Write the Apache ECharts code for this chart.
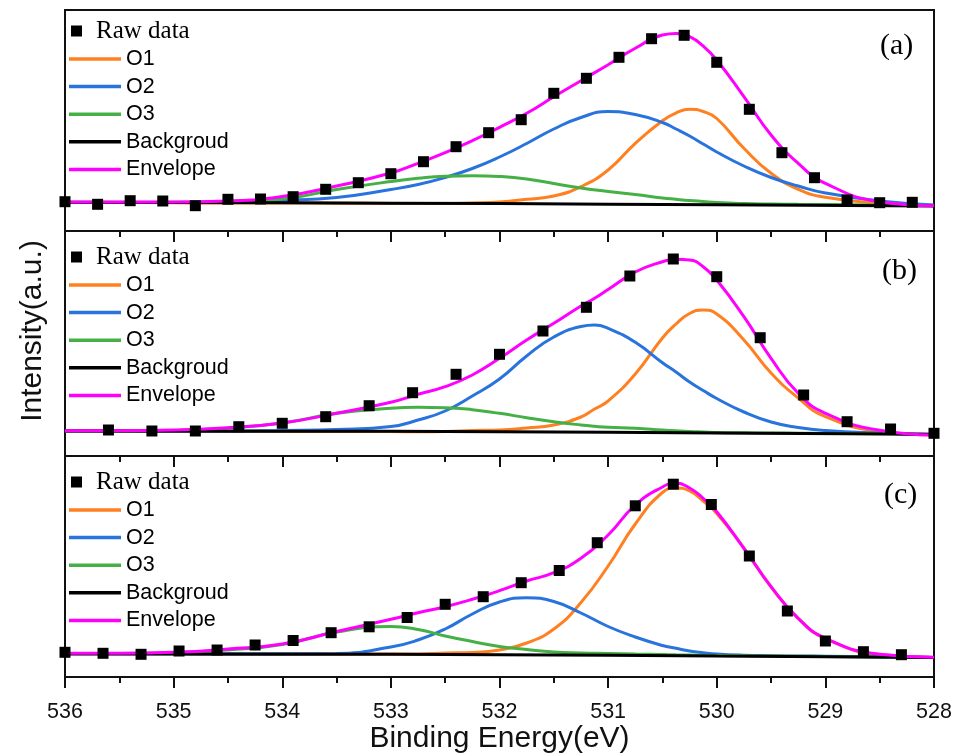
<!DOCTYPE html>
<html>
<head>
<meta charset="utf-8">
<title>O 1s XPS fits</title>
<script src="https://cdn.jsdelivr.net/npm/echarts@6/dist/echarts.min.js"></script>
<style>
  html, body { margin: 0; padding: 0; background: #fff; }
  #chart { width: 960px; height: 755px; }
</style>
</head>
<body>
<div id="chart"></div>
<script>
// binding energies (eV) where the fitted curves were read
var energy = [536, 535.5, 535, 534.5, 534, 533.5, 533, 532.75, 532.5, 532.25, 532, 531.75,
  531.5, 531.25, 531, 530.75, 530.5, 530.375, 530.25, 530.125, 530, 529.75, 529.5, 529.25, 529, 528.5, 528];
// panel (b) was also read at the O2 maximum (531.125 eV)
var energyB = [536, 535.5, 535, 534.5, 534, 533.5, 533, 532.75, 532.5, 532.25, 532, 531.75,
  531.5, 531.25, 531.125, 531, 530.75, 530.5, 530.375, 530.25, 530.125, 530, 529.75, 529.5, 529.25, 529, 528.5, 528];
var bgEnergy = [536, 534, 532, 530, 528];

// --- panel (a) ---
var envA = [29, 29, 29, 30, 34.5, 45, 58, 67.7, 78.3, 90.3, 103.7, 117.7, 134.3, 150.3, 166.3, 182.7, 196, 197.5, 194.3, 185, 171, 134.3, 96, 67.7, 47.7, 29.3, 25.3];
var o1A = [28.5, 28.5, 28.3, 28, 28, 27.8, 27.6, 27.5, 27.5, 28, 29, 31.7, 35, 44.3, 61, 87.7, 110.3, 118, 121.7, 119.5, 112.5, 82.7, 57.7, 41.7, 33.7, 27.7, 25.5];
var o2A = [28.5, 28.5, 28.5, 29, 30.5, 33.5, 41.5, 46.5, 53.5, 62.5, 74, 87.5, 102, 113.5, 119.5, 116.5, 108.5, 102, 95, 87, 79, 65, 53.5, 45, 38, 30, 26];
var o3A = [28.5, 28.5, 28.7, 29.5, 32, 41.5, 49.5, 52.7, 54.8, 55.3, 54.5, 52, 47.5, 43, 39.5, 36.5, 33, 31.7, 30.5, 29.5, 28.5, 27.5, 27, 26.7, 26.5, 26, 25.5];
var bgA = [28.7, 28.2, 27.4, 26.2, 25];
var rawEA = [536, 535.7, 535.4, 535.1, 534.8, 534.5, 534.2, 533.9, 533.6, 533.3, 533, 532.7, 532.4, 532.1,
  531.8, 531.5, 531.2, 530.9, 530.6, 530.3, 530, 529.7, 529.4, 529.1, 528.8, 528.5, 528.2];
var rawA = [29.3, 26.7, 30.3, 30, 25.3, 31.7, 32, 34.3, 41.7, 48.3, 57.3, 69.3, 84.3, 98.3,
  111.3, 137.7, 152.7, 173.7, 192.3, 195.7, 168.7, 121.7, 78.3, 53.3, 31, 28.3, 28.7];

// --- panel (b) ---
var envB = [25.3, 25.3, 26, 28.3, 33, 42.7, 53.7, 61.7, 69.3, 81, 97.7, 116, 132.7, 150, 157.7, 166.5, 184, 194.3, 196.7, 196, 189.3, 176, 139.3, 97.7, 62.7, 42.7, 25.7, 21];
var o1B = [25, 25, 24.9, 24.8, 24.6, 24.5, 24.4, 24.3, 24.4, 25.5, 26, 28, 31, 39, 47, 55, 82, 118, 132, 142.5, 146, 142, 116, 83, 58, 39.3, 24.5, 21];
var o2B = [25, 25, 25, 24.8, 25.5, 26.5, 29.5, 36, 45, 60, 77, 100, 119, 129.5, 131, 127.7, 113.7, 93.3, 84, 74, 65.5, 57.5, 44, 34, 28.5, 25.5, 23, 21.5];
var o3B = [25, 25, 25.5, 28, 33, 42.7, 47.7, 48.7, 48.3, 46.3, 42.7, 38.3, 34.3, 31, 29.7, 28.7, 27.7, 26, 25.2, 24.5, 24, 23.5, 23.2, 23, 22.8, 22.6, 22.2, 21.5];
var bgB = [25, 24.8, 24.3, 23, 21.7];
var rawEB = [535.6, 535.2, 534.8, 534.4, 534, 533.6, 533.2, 532.8, 532.4, 532, 531.6, 531.2, 530.8, 530.4,
  530, 529.6, 529.2, 528.8, 528.4, 528];
var rawB = [26, 25, 25, 29.3, 32.7, 39.3, 50.3, 63.3, 81.7, 101.7, 125, 148.7, 180, 197,
  179.3, 118.3, 61, 34.3, 27, 22.7];

// --- panel (c) ---
var envC = [23.7, 23.7, 24.7, 28, 33, 45.5, 57.7, 64.3, 70.3, 77.7, 86.3, 96, 104.3, 118.7, 142, 172, 190, 194, 189, 178.7, 165.3, 128.7, 90.3, 58.7, 38.7, 22.7, 19.7];
var o1C = [23.5, 23.5, 23.4, 23.3, 23.2, 23.1, 23, 23, 24, 24.5, 27, 34, 48, 74.5, 111, 153, 184.5, 189, 186, 176, 163.5, 129, 90, 58.5, 38.5, 22.5, 19.5];
var o2C = [23.5, 23.5, 23.4, 23.3, 23.2, 23.5, 30, 37, 48, 63, 75, 79.3, 75.5, 64, 50.5, 40, 31.5, 28.7, 26, 24.3, 23, 21.8, 21.3, 21, 20.8, 20.2, 19.5];
var o3C = [23.5, 23.5, 24.2, 27, 32.5, 45, 50.5, 47.5, 41, 35.5, 30.5, 27.5, 25, 24, 23.5, 23, 22.5, 22.2, 22, 21.7, 21.5, 21.2, 21, 20.8, 20.5, 20, 19.5];
var bgC = [23, 22.8, 22.3, 21, 19.5];
var rawEC = [536, 535.65, 535.3, 534.95, 534.6, 534.25, 533.9, 533.55, 533.2, 532.85, 532.5, 532.15,
  531.8, 531.45, 531.1, 530.75, 530.4, 530.05, 529.7, 529.35, 529, 528.65, 528.3];
var rawC = [24.7, 23.7, 22.7, 26, 27, 32, 36.5, 44.3, 50.2, 59.5, 72.7, 80.3,
  94.3, 106.5, 134.3, 171.2, 192.8, 172.5, 121, 66, 36, 25.3, 22.3];

var panelLabels = ['(a)', '(b)', '(c)'];
var lineNames = ['O1', 'O2', 'O3', 'Backgroud', 'Envelope'];

(function() {
  var sans = 'Liberation Sans, Arial, sans-serif';
  var serif = 'Liberation Serif, Times New Roman, serif';
  var colors = { O1: '#FF8020', O2: '#2873DC', O3: '#45B046', Backgroud: '#000000', Envelope: '#FF00FF' };

  var panels = [
    { e: energy, env: envA, o1: o1A, o2: o2A, o3: o3A, bg: bgA, rawE: rawEA, raw: rawA, top: 10, h: 221, rawTop: 18, lineTop: 47, labelTop: 31, labelLeft: 880 },
    { e: energyB, env: envB, o1: o1B, o2: o2B, o3: o3B, bg: bgB, rawE: rawEB, raw: rawB, top: 231, h: 225, rawTop: 244, lineTop: 273, labelTop: 256, labelLeft: 882 },
    { e: energy, env: envC, o1: o1C, o2: o2C, o3: o3C, bg: bgC, rawE: rawEC, raw: rawC, top: 456, h: 221, rawTop: 469, lineTop: 498, labelTop: 480, labelLeft: 884 }
  ];

  function pairs(xs, ys) {
    return xs.map(function(x, i) { return [x, ys[i]]; });
  }

  function curve(name, data, idx, z) {
    return {
      type: 'line', name: name, xAxisIndex: idx, yAxisIndex: idx,
      data: data, showSymbol: false, symbol: 'none', smooth: 0.5,
      color: colors[name], lineStyle: { width: 3, color: colors[name] },
      z: z, silent: true
    };
  }

  var grid = [], xAxis = [], yAxis = [], series = [], legend = [], title = [];

  panels.forEach(function(p, i) {
    var last = i === panels.length - 1;
    grid.push({ left: 65, right: 26, top: p.top, height: p.h, show: true, borderColor: '#111', borderWidth: 2 });
    xAxis.push({
      gridIndex: i, type: 'value', min: 528, max: 536, interval: 1, inverse: true,
      axisLine: { show: false },
      axisTick: { show: true, inside: false, length: 11, lineStyle: { color: '#111', width: 2 } },
      minorTick: { show: true, splitNumber: 2, length: 6, lineStyle: { color: '#111', width: 2 } },
      splitLine: { show: false },
      minorSplitLine: { show: false },
      axisLabel: { show: last, color: '#111', fontFamily: sans, fontSize: 21.5, margin: 24 },
      name: last ? 'Binding Energy(eV)' : '',
      nameLocation: 'middle', nameGap: 47,
      nameTextStyle: { color: '#111', fontFamily: sans, fontSize: 30 }
    });
    yAxis.push({ gridIndex: i, type: 'value', min: 0, max: p.h, show: false });

    series.push(curve('O1', pairs(p.e, p.o1), i, 2));
    series.push(curve('O2', pairs(p.e, p.o2), i, 2));
    series.push(curve('O3', pairs(p.e, p.o3), i, 2));
    series.push(curve('Backgroud', pairs(bgEnergy, p.bg), i, 3));
    series.push(curve('Envelope', pairs(p.e, p.env), i, 4));
    series.push({
      type: 'scatter', name: 'Raw data', xAxisIndex: i, yAxisIndex: i,
      data: pairs(p.rawE, p.raw), symbol: 'rect', symbolSize: 11,
      itemStyle: { color: '#000', opacity: 1 }, z: 5, silent: true
    });

    legend.push({
      data: ['Raw data'], left: 71, top: p.rawTop, orient: 'vertical', padding: 0,
      icon: 'rect', itemWidth: 11, itemHeight: 11,
      itemStyle: { color: '#000', opacity: 1 },
      textStyle: { color: '#000', fontFamily: serif, fontSize: 25, lineHeight: 26, padding: [0, 0, 0, 9] },
      selectedMode: false
    });
    legend.push({
      data: lineNames, left: 69, top: p.lineTop, orient: 'vertical', padding: 0,
      icon: 'rect', itemWidth: 52, itemHeight: 3.5, itemGap: 3.6,
      textStyle: { color: '#000', fontFamily: sans, fontSize: 21.5, lineHeight: 24 },
      selectedMode: false
    });
    title.push({
      text: panelLabels[i], left: p.labelLeft, top: p.labelTop, padding: 0,
      textStyle: { color: '#000', fontFamily: serif, fontSize: 30, fontWeight: 'normal', lineHeight: 30 }
    });
  });

  var chart = echarts.init(document.getElementById('chart'), null, { renderer: 'canvas' });
  chart.setOption({
    animation: false,
    backgroundColor: '#fff',
    title: title,
    legend: legend,
    grid: grid,
    xAxis: xAxis,
    yAxis: yAxis,
    series: series,
    graphic: [{
      type: 'text', x: 33, y: 331, rotation: Math.PI / 2,
      style: {
        text: 'Intensity(a.u.)', font: '30px Liberation Sans, Arial, sans-serif', fill: '#111',
        align: 'center', verticalAlign: 'middle', textAlign: 'center', textVerticalAlign: 'middle'
      }
    }]
  });
})();
</script>
</body>
</html>
